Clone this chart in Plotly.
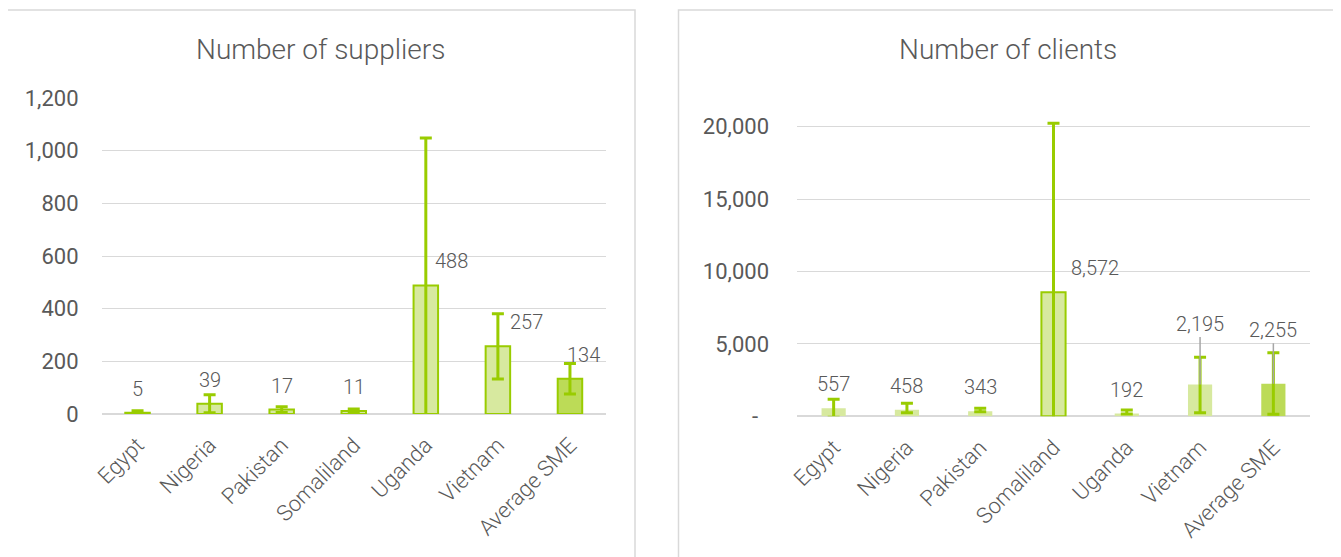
import plotly.graph_objects as go

# page is drawn with an 8px body margin, so the figure starts at (8, 8)
OFF = 8
W, H = 1341 - OFF, 557 - OFF

categories = ["Egypt", "Nigeria", "Pakistan", "Somaliland", "Uganda", "Vietnam", "Average SME"]

# number of suppliers (mean) and error ranges
suppliers = [5, 39, 17, 11, 488, 257, 134]
suppliers_err_plus = [7, 34, 11, 8, 560, 124, 58]
suppliers_err_minus = [7, 34, 11, 8, 560, 124, 58]

# number of clients (mean) and error ranges
clients = [557, 458, 343, 8572, 192, 2195, 2255]
clients_err_plus = [620, 440, 210, 11680, 245, 1880, 2140]
clients_err_minus = [620, 210, 25, 11680, 30, 1945, 2115]

suppliers_ticks = [0, 200, 400, 600, 800, 1000, 1200]
clients_ticks = [0, 5000, 10000, 15000, 20000]
clients_ticktext = ["-\u00a0\u00a0", "5,000", "10,000", "15,000", "20,000"]

GREEN = "#99cc00"
LIGHT = "#d7e99f"
DARK = "#bcdb57"
GRID = "#d9d9d9"
TXT = "#595959"
FONT = "Roboto, Noto Sans, sans-serif"
FONT_LIGHT = "Roboto Light, Lato Light, Roboto, sans-serif"

fills = [DARK if c == "Average SME" else LIGHT for c in categories]


def px(x):
    return (x - OFF) / W


def py(y):
    return 1 - (y - OFF) / H


fig = go.Figure()

fig.add_trace(go.Bar(
    x=categories, y=suppliers, width=0.34,
    marker=dict(color=fills, line=dict(color=GREEN, width=2)),
    error_y=dict(type="data", symmetric=False, array=suppliers_err_plus,
                 arrayminus=suppliers_err_minus, color=GREEN, thickness=3, width=6),
    xaxis="x", yaxis="y", hoverinfo="skip",
))

client_lines = [2 if c == "Somaliland" else 0 for c in categories]
fig.add_trace(go.Bar(
    x=categories, y=clients, width=0.33,
    marker=dict(color=fills, line=dict(color=GREEN, width=client_lines)),
    error_y=dict(type="data", symmetric=False, array=clients_err_plus,
                 arrayminus=clients_err_minus, color=GREEN, thickness=3, width=6),
    xaxis="x2", yaxis="y2", hoverinfo="skip",
))

xcommon = dict(type="category", showgrid=False, showline=False, zeroline=False,
               tickangle=-45, ticks="", automargin=False, ticklabelstandoff=13,
               tickfont=dict(family=FONT_LIGHT, size=22, color=TXT, weight=300))
ycommon = dict(showgrid=True, gridcolor=GRID, gridwidth=1.3, zeroline=True,
               zerolinecolor=GRID, zerolinewidth=1.5, showline=False, ticks="",
               automargin=False, tickfont=dict(family=FONT, size=22, color=TXT))

fig.update_layout(
    template="none",
    width=W, height=H,
    margin=dict(l=0, r=0, t=0, b=0, autoexpand=False),
    paper_bgcolor="white", plot_bgcolor="white",
    showlegend=False,
    xaxis=dict(domain=[px(101.5), px(606)], anchor="y", **xcommon),
    yaxis=dict(domain=[py(414), py(98)], anchor="x", range=[0, 1200],
               tickvals=suppliers_ticks, tickformat=",", ticklabelstandoff=22, **ycommon),
    xaxis2=dict(domain=[px(797), px(1310)], anchor="y2", **xcommon),
    yaxis2=dict(domain=[py(416.3), py(121)], anchor="x2", range=[0, 20400],
                tickvals=clients_ticks, ticktext=clients_ticktext, ticklabelstandoff=27,
                **ycommon),
)

label_font = dict(family=FONT_LIGHT, size=20, color=TXT, weight=300)

# data labels, left chart
suppliers_label_dx = [0, 0, 0, 0, 26, 29, 14]
for c, v, dx in zip(categories, suppliers, suppliers_label_dx):
    fig.add_annotation(x=c, y=v, xref="x", yref="y", text=f"{v:,}", showarrow=False,
                       yanchor="middle", xshift=dx, yshift=24, font=label_font)

# data labels, right chart (some with leader lines)
clients_label_dx = [0, 0, 0, 41, 0, 0, 0]
clients_leader_dy = [0, 0, 0, 0, 0, -61, -54]
for c, v, dx, dy in zip(categories, clients, clients_label_dx, clients_leader_dy):
    if dy:
        fig.add_annotation(x=c, y=v, xref="x2", yref="y2", text=f"{v:,}", showarrow=True,
                           arrowhead=0, arrowwidth=1.5, arrowcolor="#a6a6a6", ax=0, ay=dy,
                           standoff=0, font=label_font)
    else:
        fig.add_annotation(x=c, y=v, xref="x2", yref="y2", text=f"{v:,}", showarrow=False,
                           yanchor="middle", xshift=dx, yshift=24, font=label_font)

# titles
title_font = dict(family=FONT_LIGHT, size=28, color=TXT, weight=300)
fig.add_annotation(x=px(320), y=py(49), xref="paper", yref="paper", text="Number of suppliers",
                   xanchor="center", yanchor="middle", showarrow=False, font=title_font)
fig.add_annotation(x=px(1008), y=py(49), xref="paper", yref="paper", text="Number of clients",
                   xanchor="center", yanchor="middle", showarrow=False, font=title_font)

# panel borders
for x0, x1 in [(5, 635), (678.5, 1337)]:
    fig.add_shape(type="rect", xref="paper", yref="paper", x0=px(x0), x1=px(x1),
                  y0=py(620), y1=py(10), line=dict(color=GRID, width=1.5), layer="below")

fig.write_html("out.html")
